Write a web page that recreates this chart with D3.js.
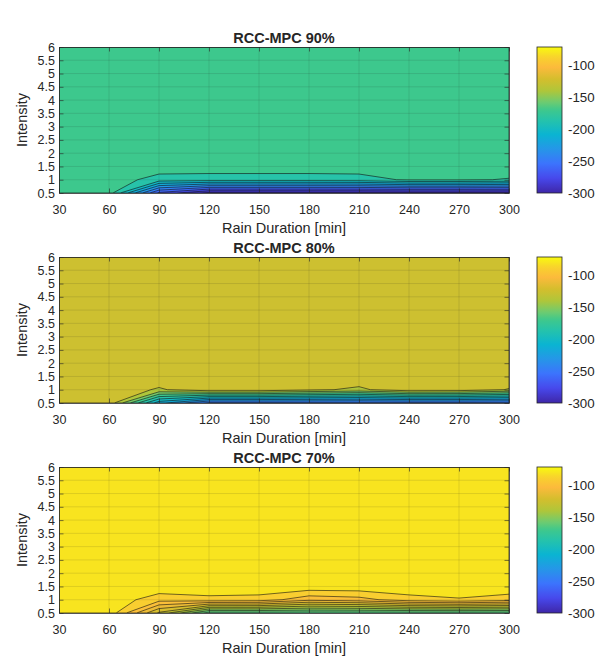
<!DOCTYPE html>
<html>
<head>
<meta charset="utf-8">
<script src="https://cdn.jsdelivr.net/npm/d3@7"></script>
<style>
body { margin: 0; background: #fff; }
text { font-family: "Liberation Sans", Arial, Helvetica, sans-serif; fill: #262626; }
</style>
</head>
<body>
<div id="chart"></div>
<script>
var width = 603,
    height = 660;

// grid of the data
var durations = [30, 60, 90, 120, 150, 180, 210, 240, 270, 300];
var intensities = [0.5, 1, 1.5, 2, 2.5, 3, 3.5, 4, 4.5, 5, 5.5, 6];
var xTicks = [30, 60, 90, 120, 150, 180, 210, 240, 270, 300];
var yTicks = [0.5, 1, 1.5, 2, 2.5, 3, 3.5, 4, 4.5, 5, 5.5, 6];
var cbarTicks = [-300, -250, -200, -150, -100];
var cLimits = [-300, -71];

// RCC-MPC 90%
var plateau90 = -162;
var row05_90 = [-162, -162, -264, -295, -295, -295, -295, -295, -295, -295];
var row10_90 = [-162, -162, -176, -177, -177, -177, -176, -168, -168, -171];
var levels90 = [-290, -275, -260, -245, -230, -215, -200, -185, -170];

// RCC-MPC 80%
var plateau80 = -115;
var row05_80 = [-115, -115, -210, -250, -250, -250, -250, -250, -250, -250];
var row10_80 = [-115, -115, -127, -115, -115, -122, -128, -115, -116, -126];
var levels80 = [-245, -230, -215, -200, -185, -170, -155, -140, -125];

// RCC-MPC 70%
var plateau70 = -73;
var row05_70 = [-73, -73, -122, -165, -165, -165, -165, -165, -165, -165];
var row10_70 = [-73, -73, -86, -83, -84, -97, -94, -84, -81, -85];
var levels70 = [-160, -150, -140, -130, -120, -110, -100, -90, -80];

var panels = [
  {title: "RCC-MPC 90%", plateau: plateau90, row05: row05_90, row10: row10_90, levels: levels90},
  {title: "RCC-MPC 80%", plateau: plateau80, row05: row05_80, row10: row10_80, levels: levels80},
  {title: "RCC-MPC 70%", plateau: plateau70, row05: row05_70, row10: row10_70, levels: levels70}
];

// parula-like colormap
var parulaT = [0, 0.1, 0.2, 0.3, 0.4, 0.5, 0.57, 0.62, 0.7, 0.78, 0.86, 0.93, 1];
var parulaC = ["#3e26a8", "#4748eb", "#3c73fd", "#2696e8", "#0ab4d2", "#26c3aa", "#3ec88c",
               "#6bcb72", "#afc63a", "#d4be2d", "#fcba3c", "#f8d22d", "#f9fb0e"];
var parula = d3.scaleLinear().domain(parulaT).range(parulaC).interpolate(d3.interpolateRgb).clamp(true);
var colorOf = function(v) { return parula((v - cLimits[0]) / (cLimits[1] - cLimits[0])); };

var margin = {left: 59, right: 509},
    plotH = 146,
    panelStep = 210,
    firstTop = 47;

var svg = d3.select("#chart").append("svg")
    .attr("width", width)
    .attr("height", height)
    .style("background", "#fff");

var x = d3.scaleLinear().domain([30, 300]).range([margin.left, margin.right]);

var idxX = d3.scaleLinear().domain([0, durations.length - 1])
    .range([durations[0], durations[durations.length - 1]]).clamp(true);
var idxY = d3.scaleLinear().domain([0, intensities.length - 1])
    .range([intensities[0], intensities[intensities.length - 1]]).clamp(true);

var tickLen = 4.5;

panels.forEach(function(p, k) {
  var top = firstTop + k * panelStep,
      bottom = top + plotH;
  var y = d3.scaleLinear().domain([0.5, 6]).range([bottom, top]);

  var values = [];
  intensities.forEach(function(iv, j) {
    durations.forEach(function(dv, i) {
      values.push(j === 0 ? p.row05[i] : (j === 1 ? p.row10[i] : p.plateau));
    });
  });

  var contours = d3.contours()
      .size([durations.length, intensities.length])
      .thresholds(p.levels)(values);

  var proj = d3.geoTransform({
    point: function(px, py) {
      this.stream.point(x(idxX(px - 0.5)), y(idxY(py - 0.5)));
    }
  });
  var path = d3.geoPath(proj);

  var g = svg.append("g");

  g.append("clipPath").attr("id", "clip" + k)
    .append("rect")
      .attr("x", margin.left).attr("y", top)
      .attr("width", margin.right - margin.left).attr("height", plotH);

  var plot = g.append("g").attr("clip-path", "url(#clip" + k + ")");

  plot.append("rect")
      .attr("x", margin.left).attr("y", top)
      .attr("width", margin.right - margin.left).attr("height", plotH)
      .attr("fill", colorOf(d3.min(values)));

  plot.selectAll("path.band")
      .data(contours)
    .enter().append("path")
      .attr("class", "band")
      .attr("d", path)
      .attr("fill", function(d) { return colorOf(d.value); })
      .attr("stroke", "#111")
      .attr("stroke-width", 0.6);

  // grid
  plot.selectAll("line.gx")
      .data(xTicks)
    .enter().append("line")
      .attr("x1", function(d) { return x(d); }).attr("x2", function(d) { return x(d); })
      .attr("y1", top).attr("y2", bottom)
      .attr("stroke", "#262626").attr("stroke-opacity", 0.15).attr("stroke-width", 0.8);
  plot.selectAll("line.gy")
      .data(yTicks)
    .enter().append("line")
      .attr("y1", function(d) { return y(d); }).attr("y2", function(d) { return y(d); })
      .attr("x1", margin.left).attr("x2", margin.right)
      .attr("stroke", "#262626").attr("stroke-opacity", 0.15).attr("stroke-width", 0.8);

  // axes (ticks inside, box on)
  var fmt = function(d) { return String(d); };
  var axB = g.append("g").attr("transform", "translate(0," + bottom + ")")
      .call(d3.axisBottom(x).tickValues(xTicks).tickFormat(fmt).tickSize(-tickLen).tickSizeOuter(0).tickPadding(12));
  var axT = g.append("g").attr("transform", "translate(0," + top + ")")
      .call(d3.axisTop(x).tickValues(xTicks).tickFormat("").tickSize(-tickLen).tickSizeOuter(0));
  var axL = g.append("g").attr("transform", "translate(" + margin.left + ",0)")
      .call(d3.axisLeft(y).tickValues(yTicks).tickFormat(fmt).tickSize(-tickLen).tickSizeOuter(0).tickPadding(4));
  var axR = g.append("g").attr("transform", "translate(" + margin.right + ",0)")
      .call(d3.axisRight(y).tickValues(yTicks).tickFormat("").tickSize(-tickLen).tickSizeOuter(0));

  [axB, axT, axL, axR].forEach(function(a) {
    a.select(".domain").attr("stroke", "#262626").attr("stroke-width", 0.8);
    a.selectAll(".tick line").attr("stroke", "#262626").attr("stroke-width", 0.6);
    a.selectAll("text").attr("fill", "#262626").style("font-size", "12.5px")
      .style("font-family", "'Liberation Sans', Arial, sans-serif");
  });

  g.append("text")
      .attr("x", (margin.left + margin.right) / 2)
      .attr("y", top - 4)
      .attr("text-anchor", "middle")
      .style("font-size", "14.5px")
      .style("font-weight", "bold")
      .text(p.title);

  g.append("text")
      .attr("x", (margin.left + margin.right) / 2)
      .attr("y", bottom + 40)
      .attr("text-anchor", "middle")
      .style("font-size", "14.5px")
      .text("Rain Duration [min]");

  g.append("text")
      .attr("transform", "translate(27," + (top + plotH / 2) + ") rotate(-90)")
      .attr("text-anchor", "middle")
      .style("font-size", "14.5px")
      .text("Intensity");

  // colorbar
  var cb = {x: 537, w: 25};
  var cy = d3.scaleLinear().domain(cLimits).range([bottom, top]);
  var gradId = "grad" + k;
  var grad = g.append("defs").append("linearGradient")
      .attr("id", gradId)
      .attr("x1", 0).attr("y1", 1).attr("x2", 0).attr("y2", 0);
  grad.selectAll("stop")
      .data(d3.range(0, 1.0001, 0.02))
    .enter().append("stop")
      .attr("offset", function(d) { return d; })
      .attr("stop-color", function(d) { return parula(d); });

  g.append("rect")
      .attr("x", cb.x).attr("y", top)
      .attr("width", cb.w).attr("height", plotH)
      .attr("fill", "url(#" + gradId + ")")
      .attr("stroke", "#262626").attr("stroke-width", 0.8);

  var axC = g.append("g").attr("transform", "translate(" + (cb.x + cb.w) + ",0)")
      .call(d3.axisRight(cy).tickValues(cbarTicks).tickFormat(fmt).tickSize(0).tickPadding(6));
  axC.select(".domain").remove();
  axC.selectAll("text").attr("fill", "#262626").style("font-size", "13.3px")
      .style("font-family", "'Liberation Sans', Arial, sans-serif");
});
</script>
</body>
</html>
